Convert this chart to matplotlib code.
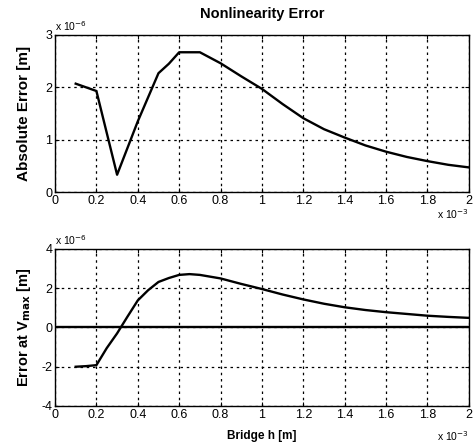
#!/usr/bin/env python3
"""Nonlinearity error of the bridge versus bridge height h"""

import numpy as np
import matplotlib
matplotlib.use("Agg")
import matplotlib.pyplot as plt

plt.rcParams['font.family'] = ['Liberation Sans', 'DejaVu Sans']
plt.rcParams['axes.unicode_minus'] = False

# h in units of 1e-3 m, errors in units of 1e-6 m
h = [0.1, 0.2, 0.3, 0.4, 0.5, 0.55, 0.6, 0.7, 0.8, 0.9, 1.0, 1.1, 1.2, 1.3,
     1.4, 1.5, 1.6, 1.7, 1.8, 1.9, 2.0]
erreur_abs = [2.07, 1.93, 0.33, 1.35, 2.27, 2.45, 2.67, 2.67, 2.46, 2.21, 1.97,
              1.68, 1.41, 1.20, 1.04, 0.89, 0.77, 0.67, 0.59, 0.52, 0.47]

h_vmax = [0.1, 0.15, 0.2, 0.25, 0.3, 0.35, 0.4, 0.45, 0.5, 0.55, 0.6, 0.65,
          0.7, 0.8, 0.9, 1.0, 1.1, 1.2, 1.3, 1.4, 1.5, 1.6, 1.7, 1.8, 1.9, 2.0]
erreur_vmax = [-2.0, -1.97, -1.92, -1.05, -0.30, 0.55, 1.38, 1.90, 2.32, 2.52,
               2.68, 2.72, 2.68, 2.50, 2.22, 1.96, 1.68, 1.43, 1.21, 1.03,
               0.89, 0.78, 0.69, 0.60, 0.54, 0.49]

xticks = [0, 0.2, 0.4, 0.6, 0.8, 1.0, 1.2, 1.4, 1.6, 1.8, 2.0]
xticklabels = ['0', '0.2', '0.4', '0.6', '0.8', '1', '1.2', '1.4', '1.6', '1.8', '2']


def style_axes(ax):
	ax.set_xlim(0, 2)
	ax.set_xticks(xticks)
	ax.set_xticklabels(xticklabels)
	ax.tick_params(direction='in', top=True, right=True, labelsize=9,
	               length=3, width=0.8, pad=2)
	ax.grid(True, color='black', linestyle=(0, (2, 3)), linewidth=0.9)
	for s in ax.spines.values():
		s.set_linewidth(1.0)


fig = plt.figure(figsize=(4.73, 4.48), dpi=100)

ax1 = fig.add_axes([0.1163, 0.5714, 0.875, 0.3505])
ax1.plot(h, erreur_abs, color='black', linewidth=1.7)
style_axes(ax1)
ax1.set_ylim(0, 3)
ax1.set_yticks([0, 1, 2, 3])
ax1.set_title("Nonlinearity Error", fontsize=10.5, fontweight='bold', pad=12)
ax1.set_ylabel("Absolute Error [m]", fontsize=11, fontweight='bold', labelpad=10)
ax1.text(0.0, 1.015, "x 10$^{-6}$", transform=ax1.transAxes, fontsize=7.5,
         ha='left', va='bottom')
ax1.text(1.0, -0.14, "x 10$^{-3}$", transform=ax1.transAxes, fontsize=7.5,
         ha='right', va='center')

ax2 = fig.add_axes([0.1163, 0.0938, 0.875, 0.3504])
ax2.plot(h_vmax, erreur_vmax, color='black', linewidth=1.7)
ax2.axhline(0, color='black', linewidth=1.7)
style_axes(ax2)
ax2.set_ylim(-4, 4)
ax2.set_yticks([-4, -2, 0, 2, 4])
ax2.set_xlabel("Bridge h [m]", fontsize=8.5, fontweight='bold', labelpad=7)
ax2.set_ylabel(r"Error at V$_{\mathbf{max}}$ [m]", fontsize=10.5,
               fontweight='bold', labelpad=6)
ax2.text(0.0, 1.015, "x 10$^{-6}$", transform=ax2.transAxes, fontsize=7.5,
         ha='left', va='bottom')
ax2.text(1.0, -0.19, "x 10$^{-3}$", transform=ax2.transAxes, fontsize=7.5,
         ha='right', va='center')

fig.savefig("out.png", dpi=100)
